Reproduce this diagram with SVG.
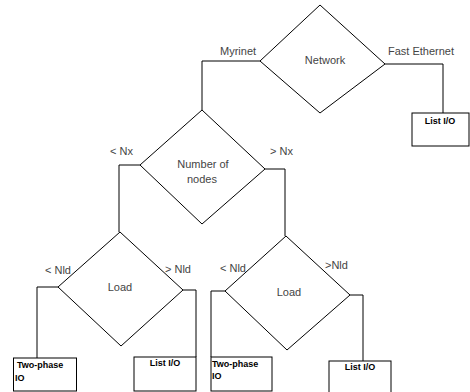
<svg xmlns="http://www.w3.org/2000/svg" width="470" height="392" viewBox="0 0 470 392">
<style>
.d{fill:#fff;stroke:#000;stroke-width:1}
.b{fill:#fff;stroke:#000;stroke-width:1}
.c{fill:none;stroke:#000;stroke-width:1}
.t{font-family:"Liberation Sans",Arial,sans-serif;fill:#444;font-size:11px}
.bt{font-family:"Liberation Sans",Arial,sans-serif;fill:#000;font-size:9px;font-weight:bold}
</style>
<rect width="470" height="392" fill="#fff"/>
<g id="connectors">
<polyline class="c" points="260,61 202,61 202,110"/>
<polyline class="c" points="385,64 443,64 443,113"/>
<polyline class="c" points="140,165 119,165 119,232"/>
<polyline class="c" points="265,169 285,169 285,236"/>
<polyline class="c" points="58,287 37,287 37,358"/>
<polyline class="c" points="183,290 196,290 196,357"/>
<polyline class="c" points="225,291 211,291 211,357"/>
<polyline class="c" points="350,295 363,295 363,361"/>
<text class="t" x="220" y="55">Myrinet</text>
<text class="t" x="388" y="55">Fast Ethernet</text>
<text class="t" x="110" y="155">&lt; Nx</text>
<text class="t" x="270" y="155">&gt; Nx</text>
<text class="t" x="45" y="274" font-size="9">&lt; Nld</text>
<text class="t" x="165" y="273" font-size="9">&gt; Nld</text>
<text class="t" x="220" y="272" font-size="9">&lt; Nld</text>
<text class="t" x="325" y="269" font-size="9">&gt;Nld</text>
</g>
<g id="network">
<polygon class="d" points="320,5 385,64 320,113 260,61"/>
<text class="t" x="325" y="64" text-anchor="middle" font-size="11.5">Network</text>
</g>
<g id="nodes">
<polygon class="d" points="202,110 265,169 202,224 140,165"/>
<text class="t" x="203" y="168" text-anchor="middle" font-size="12">Number of</text>
<text class="t" x="202" y="183" text-anchor="middle" font-size="12">nodes</text>
</g>
<g id="load1">
<polygon class="d" points="120,232 183,290 121,346 58,287"/>
<text class="t" x="120" y="291" text-anchor="middle" font-size="12">Load</text>
</g>
<g id="load2">
<polygon class="d" points="286,236 350,295 287,350 225,291"/>
<text class="t" x="289" y="296" text-anchor="middle" font-size="12">Load</text>
</g>
<g id="listio-top">
<rect class="b" x="412" y="113" width="57" height="33"/>
<text class="bt" x="440" y="124" text-anchor="middle">List I/O</text>
</g>
<g id="twophase1">
<rect class="b" x="13.5" y="358" width="63" height="33"/>
<text class="bt" x="17" y="368">Two-phase</text>
<text class="bt" x="15" y="381">IO</text>
</g>
<g id="listio1">
<rect class="b" x="134" y="357" width="62" height="34"/>
<text class="bt" x="165" y="366" text-anchor="middle">List I/O</text>
</g>
<g id="twophase2">
<rect class="b" x="211" y="357" width="61" height="34"/>
<text class="bt" x="212" y="367">Two-phase</text>
<text class="bt" x="212" y="379">IO</text>
</g>
<g id="listio2">
<rect class="b" x="329" y="361" width="62" height="34"/>
<text class="bt" x="360" y="370" text-anchor="middle">List I/O</text>
</g>
</svg>
